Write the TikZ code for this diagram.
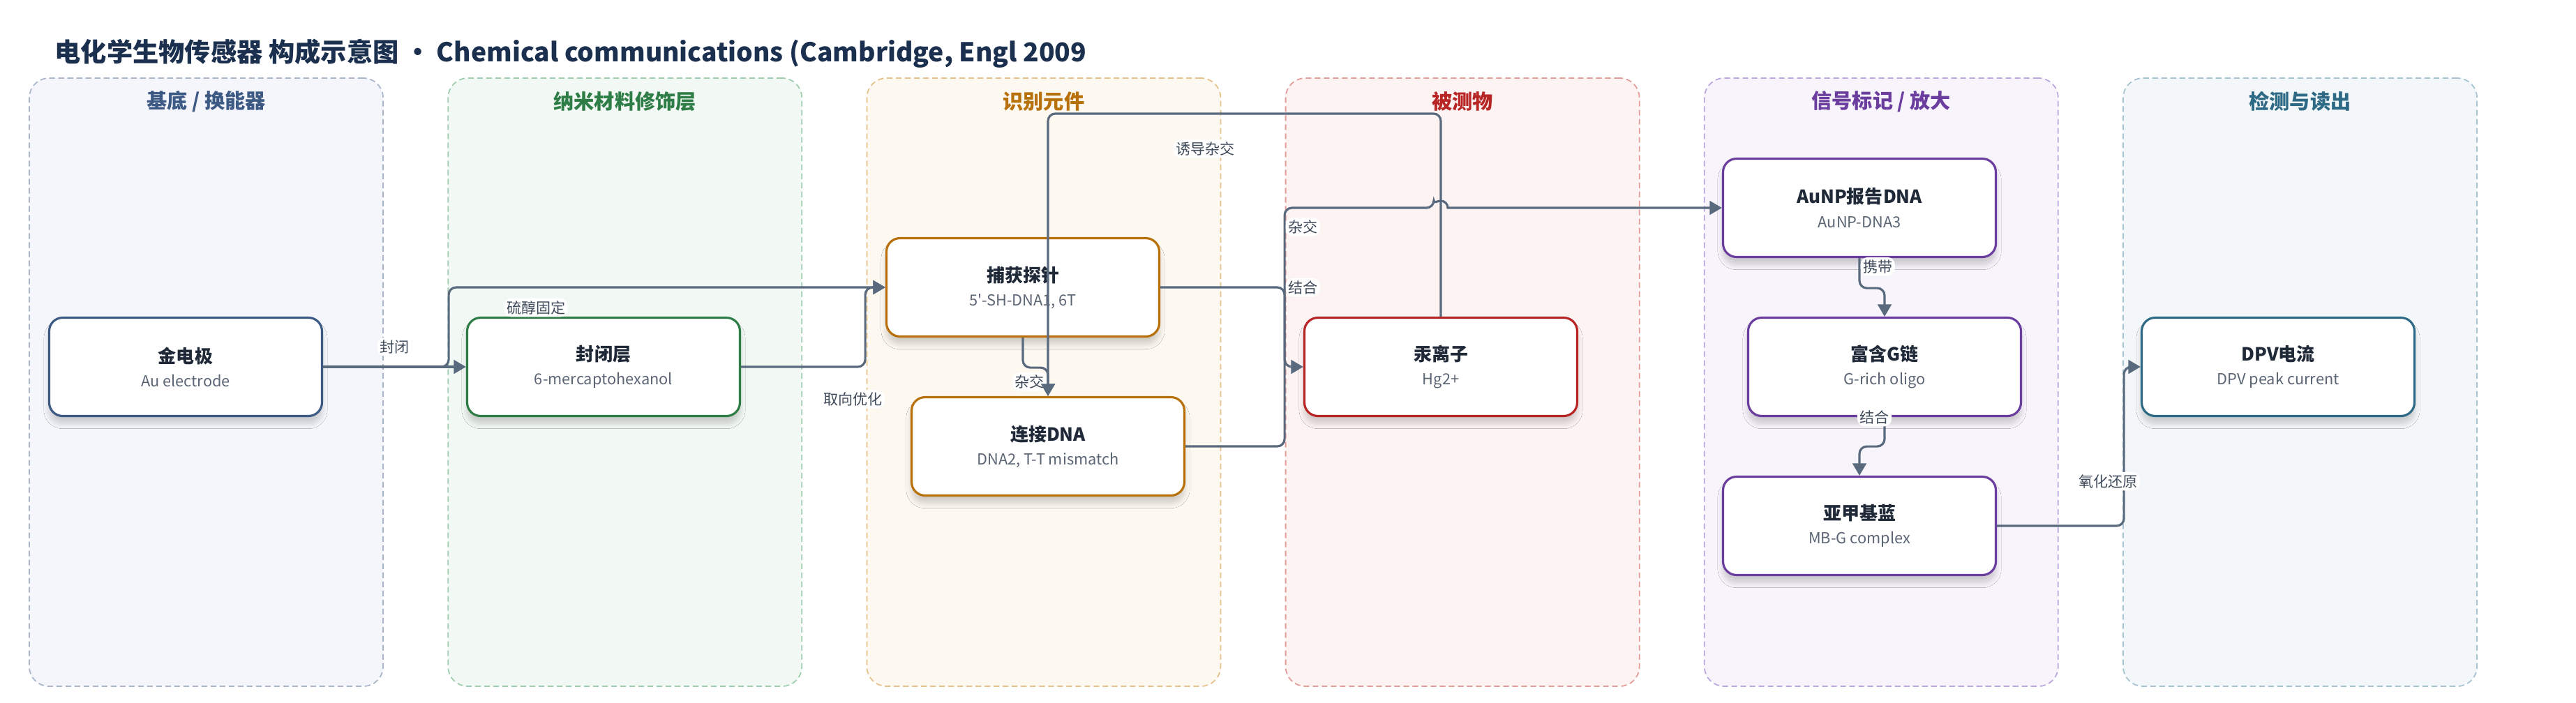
\documentclass[tikz,border=0pt]{standalone}
\usepackage{fontspec}
\setmainfont{Noto Sans CJK SC}[Ligatures=TeXOff]
\usetikzlibrary{arrows.meta,calc,shadows.blur}

\definecolor{titleNavy}{HTML}{1B2F4E}
\definecolor{boxText}{HTML}{1F2937}
\definecolor{subGray}{HTML}{5B6574}
\definecolor{edgeGray}{HTML}{5A6A7E}
\definecolor{labelGray}{HTML}{3F4A5A}
\definecolor{baseFill}{HTML}{F5F6FB}
\definecolor{baseLine}{HTML}{A9B5C9}
\definecolor{baseText}{HTML}{3D5A85}
\definecolor{nanoFill}{HTML}{F2F8F4}
\definecolor{nanoLine}{HTML}{9FCDAE}
\definecolor{nanoText}{HTML}{2E7D46}
\definecolor{recogFill}{HTML}{FDF8F0}
\definecolor{recogLine}{HTML}{E5C289}
\definecolor{recogText}{HTML}{B8700A}
\definecolor{targetFill}{HTML}{FDF3F3}
\definecolor{targetLine}{HTML}{E49C98}
\definecolor{targetText}{HTML}{B72525}
\definecolor{signalFill}{HTML}{F7F4FB}
\definecolor{signalLine}{HTML}{BCA6DE}
\definecolor{signalText}{HTML}{6A3D9E}
\definecolor{readoutFill}{HTML}{F3F7F9}
\definecolor{readoutLine}{HTML}{A5C3D0}
\definecolor{readoutText}{HTML}{2E6A85}

\newcommand{\boxtext}[2]{{\fontsize{7.4}{9.7}\selectfont\bfseries #1}\\{\color{subGray}#2}}

\begin{document}
\begin{tikzpicture}[
    panel/.style={draw, line width=0.5pt, dash pattern=on 2.3pt off 1.4pt, rounded corners=8pt,
        minimum width=5.07cm, minimum height=8.72cm, inner sep=0pt},
    ptitle/.style={font=\fontsize{8.3}{10}\selectfont\bfseries},
    box/.style={draw, line width=0.9pt, rounded corners=5.5pt, fill=white, minimum width=3.91cm,
        minimum height=1.41cm, align=center, text=boxText, font=\fontsize{6.2}{9.7}\selectfont,
        blur shadow={shadow xshift=0pt, shadow yshift=-3pt, shadow opacity=18, shadow blur steps=8}},
    flow/.style={draw=edgeGray, line width=0.9pt, rounded corners=3pt, -{Triangle[length=5pt,width=5.6pt]}},
    elabel/.style={fill=white, text=labelGray, inner sep=1pt, font=\fontsize{6}{7}\selectfont}
]
\useasboundingbox (0,0) rectangle (36.92,-10.07);

\node[anchor=west, inner sep=0pt, text=titleNavy, font=\fontsize{10.6}{12}\selectfont\bfseries] (title) at (0.78,-0.77)
    {电化学生物传感器 构成示意图 · Chemical communications (Cambridge, Engl 2009};

% columns
\foreach \i/\ttl/\c in {0/{基底 / 换能器}/base, 1/纳米材料修饰层/nano, 2/识别元件/recog,
        3/被测物/target, 4/{信号标记 / 放大}/signal, 5/检测与读出/readout} {
    \node[panel, draw=\c Line, fill=\c Fill] (panel\i) at ({2.955+6.002*\i},-5.48) {};
    \node[ptitle, text=\c Text] (ptitle\i) at ($(panel\i.north)+(0,-0.34)$) {\ttl};
}

\node[box, draw=baseText] (gold) at (2.66,-5.26) {\boxtext{金电极}{Au electrode}};
\node[box, draw=nanoText] (seal) at (8.65,-5.26) {\boxtext{封闭层}{6-mercaptohexanol}};
\node[box, draw=recogText] (probe) at (14.66,-4.12) {\boxtext{捕获探针}{5'-SH-DNA1, 6T}};
\node[box, draw=recogText] (linker) at (15.02,-6.40) {\boxtext{连接DNA}{DNA2, T-T mismatch}};
\node[box, draw=targetText] (hg) at (20.65,-5.26) {\boxtext{汞离子}{Hg2+}};
\node[box, draw=signalText] (aunp) at (26.65,-2.98) {\boxtext{AuNP报告DNA}{AuNP-DNA3}};
\node[box, draw=signalText] (grich) at (27.01,-5.26) {\boxtext{富含G链}{G-rich oligo}};
\node[box, draw=signalText] (mb) at (26.65,-7.54) {\boxtext{亚甲基蓝}{MB-G complex}};
\node[box, draw=readoutText] (dpv) at (32.65,-5.26) {\boxtext{DPV电流}{DPV peak current}};

% connectors
\draw[flow] (gold.east) -- node[elabel, above=4pt] {封闭} (seal.west);
\draw[flow] (gold.east) -- ++(1.8,0) |- node[elabel, pos=0.6, below=4pt] {硫醇固定} (probe.west);
\draw[flow] (seal.east) -- node[elabel, pos=0.9, below=9pt] {取向优化} ++(1.78,0) |- (probe.west);
\draw[flow] (probe.south) -- ++(0,-0.43) -| node[elabel, pos=0.75, left] {杂交} (linker.north);
\draw[flow] (hg.north) -- ++(0,2.91) -| node[elabel, pos=0.3, below=10pt] {诱导杂交} (linker.north);
\draw[flow] (probe.east) -- ++(1.78,0) node[elabel, right] {结合} |- (hg.west);
\draw[flow] (linker.east) -- ++(1.42,0) |- node[elabel, pos=0.46, right] {杂交}
    ($(hg.north |- aunp.west)+(-0.1,0)$) [sharp corners] arc (180:0:0.1) -- (aunp.west);
\draw[flow] (aunp.south) -- node[elabel, pos=0.28, right] {携带} ++(0,-0.43) -| (grich.north);
\draw[flow] (grich.south) -- node[elabel, pos=0, xshift=-4.1pt] {结合} ++(0,-0.42) -| (mb.north);
\draw[flow] (mb.east) -- ++(1.82,0) |- node[elabel, pos=0.14, xshift=-6.5pt] {氧化还原} (dpv.west);
\end{tikzpicture}
\end{document}
